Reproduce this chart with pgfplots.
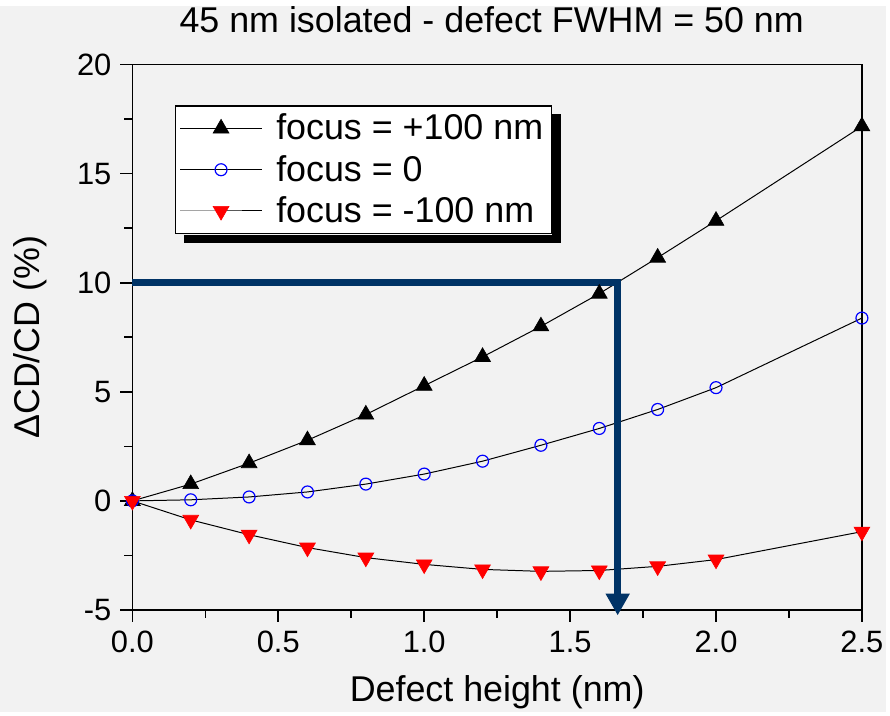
\documentclass[border=0pt]{standalone}
\usepackage{fontspec}
\setmainfont{Liberation Sans}
\usepackage{pgfplots}
\pgfplotsset{compat=1.18}
\usetikzlibrary{arrows.meta,calc}
\definecolor{bg}{HTML}{F2F2F2}
\definecolor{navy}{HTML}{003366}

\begin{document}
\begin{tikzpicture}
\fill[bg] (0,0) rectangle (445pt,355pt);
\begin{axis}[
    at={(66.5pt,51.5pt)}, anchor=south west,
    scale only axis, width=366.5pt, height=274pt,
    xmin=0, xmax=2.5, ymin=-5, ymax=20,
    xtick={0,0.5,1,1.5,2,2.5},
    xticklabels={0.0,0.5,1.0,1.5,2.0,2.5},
    ytick={-5,0,5,10,15,20},
    yticklabels={-5,0,5,10,15,20},
    minor x tick num=1, minor y tick num=1,
    tick align=outside, tick pos=left,
    major tick length=6pt, minor tick length=4pt,
    axis line style={line width=0.8pt},
    every tick/.style={line width=0.8pt, black},
    tick label style={font=\fontsize{15.5}{18}\selectfont},
    xticklabel style={yshift=-1pt},
    yticklabel style={xshift=-1pt},
    clip=false,
    title={45 nm isolated - defect FWHM = 50 nm},
    title style={at={(axis description cs:0.4925,1.0602)}, anchor=center,
        font=\fontsize{18}{21}\selectfont},
    xlabel={Defect height (nm)},
    xlabel style={at={(axis description cs:0.5,-0.1515)}, anchor=center,
        font=\fontsize{18}{21}\selectfont},
    ylabel={ΔCD/CD (\%)},
    ylabel style={at={(axis description cs:-0.1405,0.5)}, anchor=center,
        rotate=0, font=\fontsize{18}{21}\selectfont},
    legend style={
        name=leg,
        at={(rel axis cs:0.0587,0.925)}, anchor=north west,
        draw=black, fill=white, line width=0.6pt,
        font=\fontsize{18}{21}\selectfont,
        row sep=2.2pt, inner sep=2pt,
        cells={anchor=west},
        /tikz/every odd column/.append style={column sep=5pt},
    },
    legend image code/.code={
        \draw[mark repeat=2, mark phase=2, #1]
            plot coordinates {(0cm,0cm) (0.72cm,0cm) (1.44cm,0cm)};
    },
]

% focus = +100 nm
\addplot[black, line width=0.5pt, mark=triangle*, mark size=4.6pt,
    mark options={fill=black, draw=black, line width=0.3pt}]
    coordinates {
        (0,0) (0.2,0.77) (0.4,1.73) (0.6,2.78) (0.8,3.96) (1.0,5.28)
        (1.2,6.6) (1.4,8.0) (1.6,9.5) (1.8,11.15) (2.0,12.84) (2.5,17.17)
    };
\addlegendentry{focus = +100 nm}

% focus = 0
\addplot[black, line width=0.5pt, mark=o, mark size=3pt,
    mark options={fill=white, draw=blue, line width=0.6pt}]
    coordinates {
        (0,0) (0.2,0.05) (0.4,0.18) (0.6,0.41) (0.8,0.77) (1.0,1.23)
        (1.2,1.82) (1.4,2.55) (1.6,3.32) (1.8,4.19) (2.0,5.19) (2.5,8.38)
    };
\addlegendentry{focus = 0}

% focus = -100 nm
\addplot[black, line width=0.5pt, mark=triangle*, mark size=4.6pt,
    mark options={rotate=180, fill=red, draw=red, line width=0.3pt}]
    coordinates {
        (0,0) (0.2,-0.87) (0.4,-1.55) (0.6,-2.14) (0.8,-2.6) (1.0,-2.91)
        (1.2,-3.14) (1.4,-3.23) (1.6,-3.19) (1.8,-3.0) (2.0,-2.69) (2.5,-1.41)
    };
\addlegendentry{focus = -100 nm}

% read-off guide
\addplot[forget plot, navy, line width=3.3pt, line join=miter,
    -{Triangle[width=11.5pt, length=11pt]}]
    coordinates {(0,10) (1.663,10) (1.663,-5.25)};

\end{axis}
% legend shadow (L-shaped, so it does not cover the legend)
\fill[black] ($(leg.north east)+(0.3pt,-4.5pt)$) rectangle ($(leg.south east)+(4.5pt,-4.5pt)$);
\fill[black] ($(leg.south west)+(4.5pt,-0.3pt)$) rectangle ($(leg.south east)+(4.5pt,-4.5pt)$);
\end{tikzpicture}
\end{document}
